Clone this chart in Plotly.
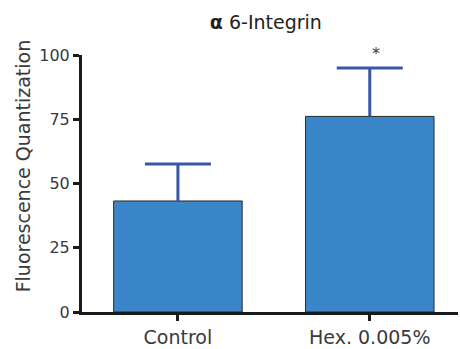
import plotly.graph_objects as go

categories = ["Control", "Hex. 0.005%"]
means = [43.2, 76.1]
errors = [14.4, 18.8]
significance = ["", "*"]
y_ticks = [0, 25, 50, 75, 100]
y_title = "Fluorescence Quantization"

FONT = "DejaVu Sans, sans-serif"
TXT = "#3a3a3a"
CAP_HALF = 0.172
positions = list(range(len(categories)))

fig = go.Figure()
fig.add_trace(go.Bar(
    x=positions, y=means, width=0.67,
    marker=dict(color="#3A86C8", line=dict(color="#2a2a2a", width=1)),
    cliponaxis=False, hoverinfo="skip",
))

# error bars (upper only, no cap at bar top)
ex, ey = [], []
for p, m, e in zip(positions, means, errors):
    ex += [p, p, None, p - CAP_HALF, p + CAP_HALF, None]
    ey += [m, m + e, None, m + e, m + e, None]
fig.add_trace(go.Scatter(x=ex, y=ey, mode="lines", line=dict(color="#3A55A4", width=3),
                         cliponaxis=False, hoverinfo="skip"))

for p, m, e, s in zip(positions, means, errors, significance):
    if s:
        fig.add_annotation(x=p, y=m + e, text=s, showarrow=False,
                           yshift=15, xshift=6, font=dict(size=16, color=TXT, family=FONT))

fig.add_annotation(xref="paper", yref="paper", x=-0.156, y=0.568, text=y_title,
                   textangle=-90, showarrow=False, xanchor="center", yanchor="middle",
                   font=dict(size=19, color=TXT, family=FONT))

fig.update_layout(
    width=460, height=349,
    margin=dict(l=82, r=2, t=55, b=37),
    paper_bgcolor="white", plot_bgcolor="white",
    showlegend=False,
    title=dict(text="<b>α</b> 6-Integrin", x=0.578, xanchor="center", y=0.935, yanchor="middle",
               font=dict(size=19, color="#222", family=FONT)),
    font=dict(family=FONT, color=TXT),
)
fig.update_xaxes(
    range=[-0.5, 1.46], tickmode="array", tickvals=positions, ticktext=categories,
    showline=True, linecolor="#1a1a1a", linewidth=3, ticks="outside", ticklen=6,
    tickwidth=3, tickcolor="#1a1a1a", showgrid=False, zeroline=False,
    tickfont=dict(size=19, color=TXT, family=FONT),
)
fig.update_yaxes(
    range=[0, 100], tickvals=y_ticks, showline=True, linecolor="#1a1a1a", linewidth=3,
    ticks="outside", ticklen=6, tickwidth=3, tickcolor="#1a1a1a", showgrid=False,
    zeroline=False, tickfont=dict(size=16, color=TXT, family=FONT),
)

fig.write_html("out.html")
